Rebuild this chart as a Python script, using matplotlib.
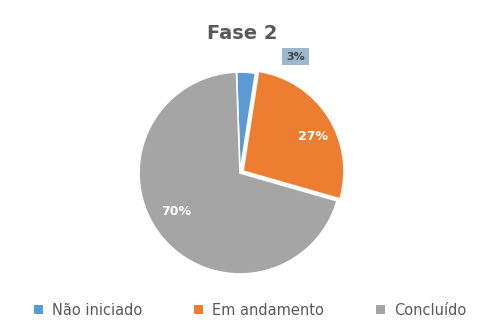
import matplotlib.pyplot as plt
from matplotlib.patches import Patch

# project status, phase 2
categories = ["Não iniciado", "Em andamento", "Concluído"]
shares = [3, 27, 70]
colors = ["#5B9BD5", "#ED7D31", "#A5A5A5"]

fig = plt.figure(figsize=(5.0, 3.32), dpi=100)
ax = fig.add_axes([137 / 500, 56 / 332, 206 / 500, 206 / 332])

wedges, _ = ax.pie(
    shares, colors=colors, startangle=92, counterclock=False,
    explode=[0, 0.035, 0], radius=0.98,
    wedgeprops=dict(edgecolor="white", linewidth=1.2),
)
ax.set_xlim(-1, 1)
ax.set_ylim(-1, 1)
ax.set_aspect("equal")

# percentage labels
ax.text(0.71, 0.35, f"{shares[1]}%", ha="center", va="center",
        color="white", fontsize=9, fontweight="bold")
ax.text(-0.62, -0.37, f"{shares[2]}%", ha="center", va="center",
        color="white", fontsize=9, fontweight="bold")
ax.text(0.54, 1.13, f"{shares[0]}%", ha="center", va="center",
        color="#404040", fontsize=8, fontweight="bold",
        bbox=dict(boxstyle="square,pad=0.35", fc="#9DB8CC", ec="none"))

fig.text(0.485, 0.9, "Fase 2", ha="center", va="center",
         fontsize=14, fontweight="bold", color="#595959")

handles = [Patch(facecolor=c, edgecolor="none") for c in colors]
fig.legend(handles, categories, loc="center", bbox_to_anchor=(0.5, 0.065),
           ncol=3, frameon=False, fontsize=10.5, labelcolor="#595959",
           handlelength=0.6, handleheight=0.6, columnspacing=3.6,
           handletextpad=0.6)

fig.savefig("out.png", dpi=100)
